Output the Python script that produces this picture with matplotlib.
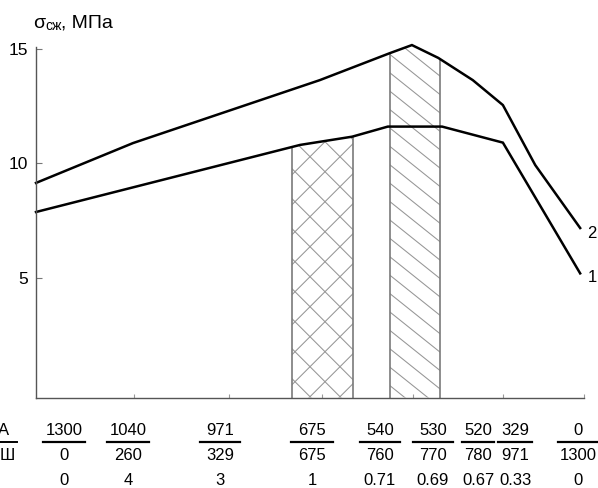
import matplotlib
matplotlib.use('Agg')
import matplotlib.pyplot as plt
import numpy as np
from matplotlib.transforms import blended_transform_factory
from matplotlib.lines import Line2D

plt.rcParams['font.family'] = ['Liberation Sans', 'DejaVu Sans']

# ---------------- data ----------------
# x is a relative position along the composition axis (0..100)
curve2_x = [0, 17.7, 51.8, 64.6, 68.6, 73.4, 79.7, 85.2, 91.1, 99.3]
curve2_y = [9.13, 10.87, 13.62, 14.80, 15.15, 14.59, 13.62, 12.53, 9.91, 7.16]
curve1_x = [0, 48.2, 57.7, 64.2, 74.1, 85.2, 99.3]
curve1_y = [7.86, 10.79, 11.15, 11.59, 11.59, 10.89, 5.18]

cross_zone = (46.72, 57.85)     # cross-hatched zone (under curve 1)
diag_zone = (64.60, 73.72)      # diagonal-hatched zone (under curve 2)

y_ticks = [5, 10, 15]
x_ticks = [17.88, 35.22, 52.19, 68.80, 85.22, 100]

col_pos = [5.11, 16.79, 33.58, 50.36, 62.77, 72.45, 80.66, 87.41, 98.91]
row_A = ['1300', '1040', '971', '675', '540', '530', '520', '329', '0']
row_Sh = ['0', '260', '329', '675', '760', '770', '780', '971', '1300']
row_ratio = ['0', '4', '3', '1', '0.71', '0.69', '0.67', '0.33', '0']
bar_half = [3.8, 3.75, 3.65, 3.75, 3.65, 3.65, 2.9, 3.1, 3.65]  # style: fraction bar half widths

# ---------------- figure ----------------
W, H = 598, 488
fig = plt.figure(figsize=(W / 100, H / 100), dpi=100)
YB_PX, YT_PX = 397.5, 34.76
ax = fig.add_axes([36 / W, (H - YB_PX) / H, 548 / W, (YB_PX - YT_PX) / H])
ymin, ymax = -0.24, 15.6
ax.set_xlim(0, 100)
ax.set_ylim(ymin, ymax)

for s in ['top', 'right']:
    ax.spines[s].set_visible(False)
for s in ['left', 'bottom']:
    ax.spines[s].set_color('#555555')
    ax.spines[s].set_linewidth(1.0)
ax.spines['left'].set_bounds(ymin, 15.07)

ax.set_yticks(y_ticks)
ax.set_yticklabels([str(v) for v in y_ticks])
ax.tick_params(axis='y', direction='in', length=4, width=0.8, color='#777777',
               labelsize=12.5, pad=6)
ax.set_xticks(x_ticks)
ax.set_xticklabels([''] * len(x_ticks))
ax.tick_params(axis='x', direction='in', length=3, width=0.8, color='#999999')

# px per data unit
SX = 548 / 100.0
SY = (YB_PX - YT_PX) / (ymax - ymin)


def hatch_zone(x_lo, x_hi, top_x, top_y, slopes, spacing_px, anchor_px):
    xs = np.linspace(x_lo, x_hi, 60)
    tops = np.interp(xs, top_x, top_y)
    coll = ax.fill_between(xs, ymin, tops, facecolor='none', edgecolor='none')
    path = coll.get_paths()[0]
    ax_px, ay_px = anchor_px
    for m in slopes:  # slope in image pixels (down-right positive)
        for k in range(-40, 41):
            x0 = ax_px + k * spacing_px
            px = np.array([x0 - 600, x0 + 600])
            py = ay_px + m * (px - x0)
            xd = (px - 36) / SX
            yd = 10 + (163 - py) / SY
            ln, = ax.plot(xd, yd, color='#959595', lw=0.75, solid_capstyle='butt')
            ln.set_clip_path(path, ax.transData)
    t_lo = np.interp(x_lo, top_x, top_y)
    t_hi = np.interp(x_hi, top_x, top_y)
    ax.vlines([x_lo, x_hi], ymin, [t_lo, t_hi], color='#7a7a7a', lw=1.2)


hatch_zone(cross_zone[0], cross_zone[1], curve1_x, curve1_y, [1.0, -1.0], 30, (295, 201.7))
hatch_zone(diag_zone[0], diag_zone[1], curve2_x, curve2_y, [0.8], 23, (390, 201.7))

ax.plot(curve2_x, curve2_y, color='black', lw=1.8, clip_on=False, solid_joinstyle='miter')
ax.plot(curve1_x, curve1_y, color='black', lw=1.8, clip_on=False, solid_joinstyle='miter')

ax.text(101.5, 6.94, '2', fontsize=12, ha='center', va='center', clip_on=False)
ax.text(101.5, 4.98, '1', fontsize=12, ha='center', va='center', clip_on=False)

# y-axis title
def fy(py):
    return (H - py) / H

fig.text(33 / W, fy(28), 'σ', fontsize=14, va='baseline', ha='left')
fig.text(45 / W, fy(29.5), 'сж', fontsize=10, va='baseline', ha='left')
fig.text(61 / W, fy(28), ', МПа', fontsize=14, va='baseline', ha='left')

# bottom table
tr = blended_transform_factory(ax.transData, fig.transFigure)
for x, a, s, r, hw in zip(col_pos, row_A, row_Sh, row_ratio, bar_half):
    fig.text(x, fy(435), a, transform=tr, fontsize=12, ha='center', va='baseline')
    fig.text(x, fy(460), s, transform=tr, fontsize=12, ha='center', va='baseline')
    fig.text(x, fy(485), r, transform=tr, fontsize=12, ha='center', va='baseline')
    fig.add_artist(Line2D([x - hw, x + hw], [fy(441.7), fy(441.7)], transform=tr,
                          color='black', lw=1.6))

fig.text(-5.84, fy(435), 'А', transform=tr, fontsize=12, ha='center', va='baseline')
fig.text(-5.29, fy(460), 'Ш', transform=tr, fontsize=12, ha='center', va='baseline')
fig.add_artist(Line2D([-7.5, -3.47], [fy(441.7), fy(441.7)], transform=tr,
                      color='black', lw=1.4))

fig.savefig('out.png', dpi=100)
